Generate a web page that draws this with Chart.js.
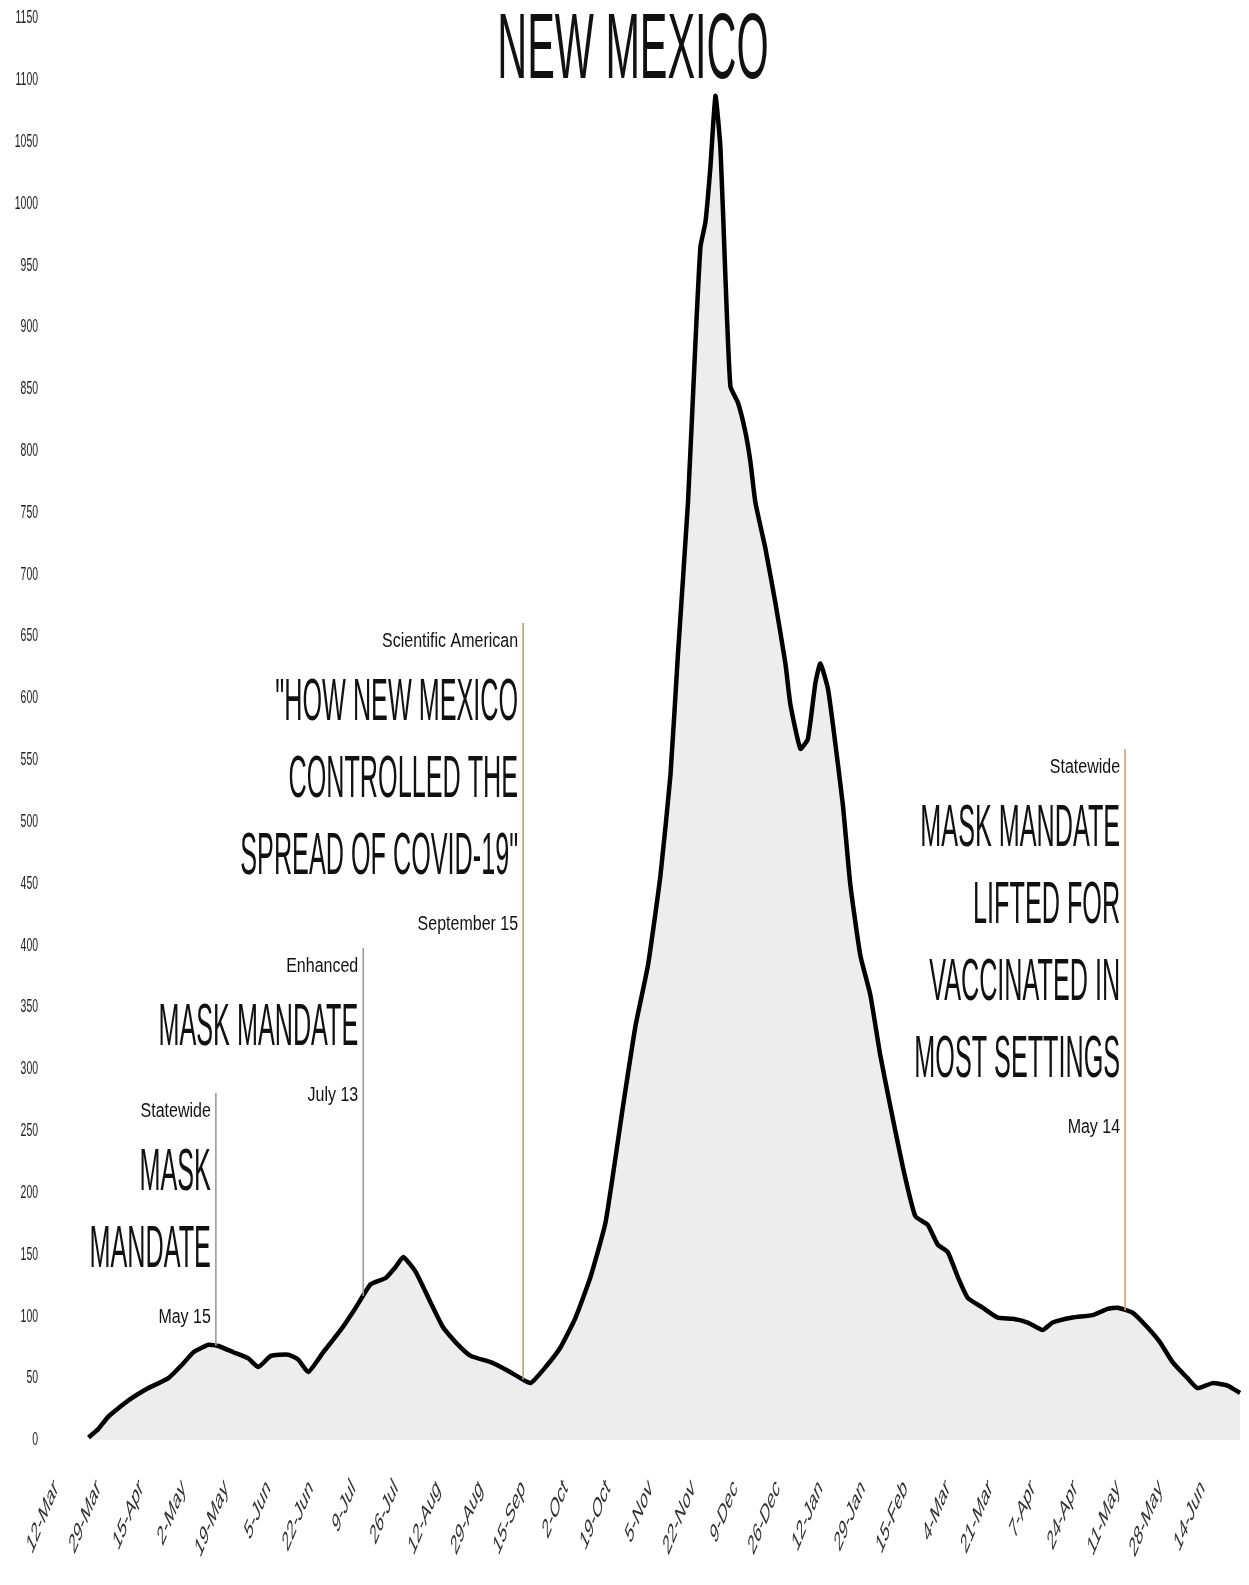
<!DOCTYPE html>
<html>
<head>
<meta charset="utf-8">
<title>New Mexico</title>
<script src="https://cdn.jsdelivr.net/npm/chart.js@4.4.0/dist/chart.umd.min.js"></script>
<style>
  html, body { margin: 0; padding: 0; background: #fff; }
  #wrap { width: 1249px; height: 1585px; }
</style>
</head>
<body>
<div id="wrap"><canvas id="nmChart" width="1249" height="1585"></canvas></div>
<script>
// x values are days counted from 12-Mar-2020
const tickLabels = ['12-Mar', '29-Mar', '15-Apr', '2-May', '19-May', '5-Jun', '22-Jun', '9-Jul', '26-Jul',
    '12-Aug', '29-Aug', '15-Sep', '2-Oct', '19-Oct', '5-Nov', '22-Nov', '9-Dec', '26-Dec', '12-Jan',
    '29-Jan', '15-Feb', '4-Mar', '21-Mar', '7-Apr', '24-Apr', '11-May', '28-May', '14-Jun'];

const caseDays = [13, 17, 21, 29, 37, 45, 51, 55, 61, 65, 71, 77, 81, 86, 93, 97, 101, 107, 114, 120,
    126, 132, 136, 139, 144, 150, 155, 160, 166, 174, 180, 186, 190, 196, 202, 208, 214, 220, 227, 232,
    237, 242, 246, 249, 253, 256, 258, 260, 262, 264, 266, 268, 270, 273, 276, 278, 280, 284, 288, 292,
    294, 298, 301, 304, 306, 309, 311, 315, 318, 322, 326, 330, 334, 339, 344, 349, 353, 357, 361, 365,
    371, 377, 383, 389, 395, 399, 407, 415, 421, 425, 431, 437, 442, 447, 453, 457, 463, 469, 474];

const caseValues = [2, 9, 19, 32, 42, 50, 62, 71, 77, 76, 71, 66, 59, 68, 69, 65, 55, 71, 89, 107,
    126, 131, 140, 148, 136, 111, 91, 79, 68, 63, 57, 50, 46, 59, 75, 99, 132, 176, 270, 335,
    384, 457, 538, 636, 758, 888, 965, 985, 1030, 1087, 1045, 940, 852, 839, 815, 791, 758, 721, 677, 628,
    595, 559, 567, 612, 628, 608, 579, 514, 449, 392, 360, 311, 270, 221, 181, 174, 158, 152, 132, 115,
    107, 99, 98, 95, 89, 95, 99, 101, 106, 107, 103, 91, 79, 63, 50, 42, 46, 44, 38];

const eventDays = [64, 123, 187, 428];
const eventTexts = [
    ['Statewide', 'MASK', 'MANDATE', 'May 15'],
    ['Enhanced', 'MASK MANDATE', 'July 13'],
    ['Scientific American', '"HOW NEW MEXICO', 'CONTROLLED THE', 'SPREAD OF COVID-19"', 'September 15'],
    ['Statewide', 'MASK MANDATE', 'LIFTED FOR', 'VACCINATED IN', 'MOST SETTINGS', 'May 14']
];

const FONT = "'Liberation Sans', Arial, sans-serif";

// narrow text: draw with a horizontal squeeze
function drawNarrow(ctx, text, x, y, size, squeeze, align, baseline) {
    ctx.save();
    ctx.translate(x, y);
    ctx.scale(squeeze, 1);
    ctx.font = size + 'px ' + FONT;
    ctx.textAlign = align;
    ctx.textBaseline = baseline || 'alphabetic';
    ctx.fillText(text, 0, 0);
    ctx.restore();
}

function valueAt(day) {
    for (let i = 1; i < caseDays.length; i++) {
        if (caseDays[i] >= day) {
            const t = (day - caseDays[i - 1]) / (caseDays[i] - caseDays[i - 1]);
            return caseValues[i - 1] + t * (caseValues[i] - caseValues[i - 1]);
        }
    }
    return caseValues[caseValues.length - 1];
}

const overlay = {
    id: 'overlay',
    afterDatasetsDraw(chart) {
        const ctx = chart.ctx;
        const xs = chart.scales.x;
        const ys = chart.scales.y;
        ctx.fillStyle = '#222';

        // y axis labels
        ys.ticks.forEach(t => {
            drawNarrow(ctx, String(t.value), 38, ys.getPixelForValue(t.value), 19, 0.55, 'right', 'middle');
        });

        // x axis labels, slanted
        ctx.fillStyle = '#333';
        xs.ticks.forEach(t => {
            const idx = Math.round(t.value / 17);
            if (t.value % 17 !== 0 || idx >= tickLabels.length) return;
            ctx.save();
            ctx.translate(xs.getPixelForValue(t.value), 1484);
            ctx.scale(0.45, 1);
            ctx.rotate(-48 * Math.PI / 180);
            ctx.font = '28px ' + FONT;
            ctx.textAlign = 'right';
            ctx.textBaseline = 'middle';
            ctx.fillText(tickLabels[idx], 0, 0);
            ctx.restore();
        });

        // title
        ctx.fillStyle = '#111';
        drawNarrow(ctx, 'NEW MEXICO', 633, 78, 92, 0.45, 'center');

        // event notes
        const firstBase = [1117, 972, 647, 773];
        const lineColors = ['#9c9c9c', '#9c9c9c', '#b9a574', '#d9a468'];
        eventDays.forEach((day, i) => {
            const x = xs.getPixelForValue(day);
            const lines = eventTexts[i];
            const yEnd = ys.getPixelForValue(valueAt(day));
            ctx.save();
            ctx.strokeStyle = lineColors[i];
            ctx.lineWidth = 1.6;
            ctx.beginPath();
            ctx.moveTo(x, firstBase[i] - 24);
            ctx.lineTo(x, yEnd);
            ctx.stroke();
            ctx.restore();

            ctx.fillStyle = '#111';
            let y = firstBase[i];
            lines.forEach((txt, j) => {
                const small = j === 0 || j === lines.length - 1;
                if (j === 1) y += 73;
                else if (j > 1 && j < lines.length - 1) y += 77;
                else if (j === lines.length - 1) y += 56;
                if (small) drawNarrow(ctx, txt, x - 5, y, 20, 0.8, 'right');
                else drawNarrow(ctx, txt, x - 5, y, 60, 0.42, 'right');
            });
        });
    }
};

new Chart(document.getElementById('nmChart'), {
    type: 'line',
    data: {
        datasets: [{
            data: caseDays.map((d, i) => ({ x: d, y: caseValues[i] })),
            borderColor: '#000',
            borderWidth: 4.5,
            pointRadius: 0,
            fill: 'origin',
            backgroundColor: 'rgba(0,0,0,0.07)',
            tension: 0.15
        }]
    },
    options: {
        responsive: false,
        animation: false,
        layout: { padding: { left: 48, top: 18, right: 4, bottom: 137 } },
        plugins: {
            legend: { display: false },
            tooltip: { enabled: false }
        },
        scales: {
            x: {
                type: 'linear',
                min: 0,
                max: 476,
                ticks: { display: false, stepSize: 17 },
                grid: { display: false },
                border: { display: false }
            },
            y: {
                min: 0,
                max: 1150,
                ticks: { display: false, stepSize: 50 },
                grid: { display: false },
                border: { display: false }
            }
        }
    },
    plugins: [overlay]
});
</script>
</body>
</html>
